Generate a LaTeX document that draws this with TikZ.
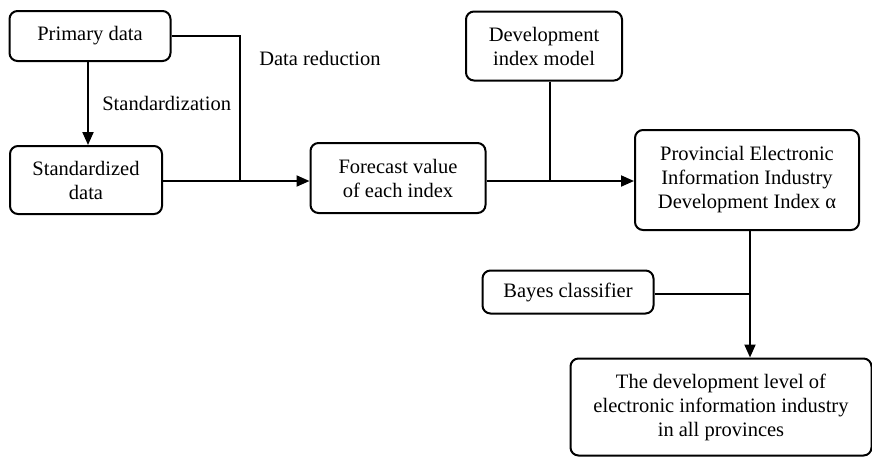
\documentclass[tikz,border=0pt]{standalone}
\usepackage{fontspec}
\setmainfont{Liberation Serif}
\usetikzlibrary{arrows.meta, positioning}

\begin{document}
\begin{tikzpicture}
    %defining some styles
    [
        x=1pt, y=-1pt,
        font=\fontsize{20.5}{24}\selectfont,
        stage/.style={rectangle, rounded corners=8pt, draw=black, line width=2pt, align=center, inner sep=0pt},
        link/.style={line width=2pt},
        flow/.style={line width=2pt, -{Triangle[length=13pt, width=11pt]}},
    ]
    \useasboundingbox (0,0) rectangle (872,459);
    \node (primary) at ( 90, 36) [stage, minimum width=161pt, minimum height=50pt] {Primary data};
    \node (standard) at ( 86,180) [stage, minimum width=152pt, minimum height=68pt] {Standardized\\data};
    \node (forecast) at (398,178) [stage, minimum width=175pt, minimum height=70pt] {Forecast value\\of each index};
    \node (model) at (544, 46) [stage, minimum width=156pt, minimum height=69pt] {Development\\index model};
    \node (province) at (747,180) [stage, minimum width=224pt, minimum height=100pt] {Provincial Electronic\\Information Industry\\Development Index α};
    \node (bayes) at (568,292) [stage, minimum width=171pt, minimum height=43pt] {Bayes classifier};
    \node (level) at (721,407) [stage, minimum width=301pt, minimum height=97pt] {The development level of\\electronic information industry\\in all provinces};

    \coordinate (reduce) at (240,181);
    \coordinate (merge) at (550,181);
    \coordinate (join) at (750,294);

    \draw[flow] (primary.south -| 88,0) -- (standard.north -| 88,0)
        node[midway, right=10pt] {Standardization};
    \draw[link] (primary.east) -| (reduce)
        node[pos=0.6, right=15pt, yshift=7pt] {Data reduction};
    \draw[flow] (standard.east |- reduce) -- (forecast.west |- reduce);
    \draw[link] (model.south -| merge) -- (merge);
    \draw[flow] (forecast.east |- merge) -- (province.west |- merge);
    \draw[link] (bayes.east |- join) -- (join);
    \draw[flow] (province.south -| join) -- (level.north -| join);
\end{tikzpicture}
\end{document}
